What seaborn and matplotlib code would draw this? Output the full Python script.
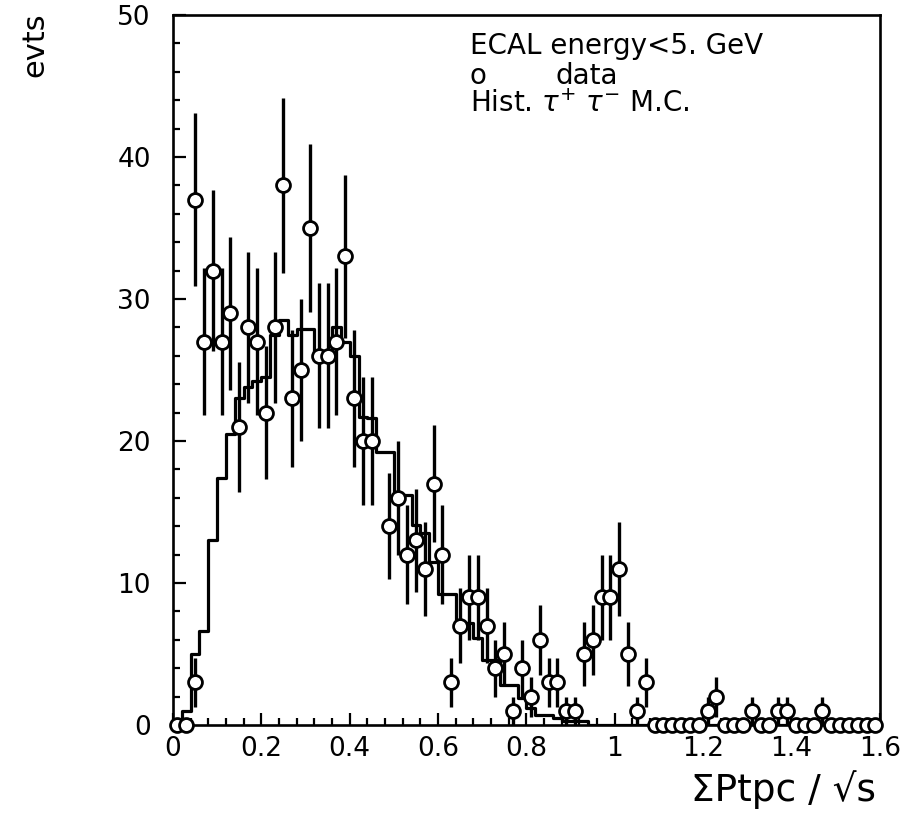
import numpy as np
import pandas as pd
import matplotlib
matplotlib.use("Agg")
import matplotlib.pyplot as plt
import seaborn as sns
from matplotlib.ticker import MultipleLocator, FixedLocator, FixedFormatter

# ---------------- data ----------------
bin_width = 0.02
x_min, x_max = 0.0, 1.6

# Monte Carlo tau+tau- histogram (80 bins of 0.02)
mc_hist = [0, 1, 5, 6.6, 13, 17.4, 20.5, 23, 23.8, 24.2,
           24.5, 27.5, 28.5, 27.5, 27.9, 27.9, 26.2, 26.2, 28, 27,
           26, 21.7, 21.6, 19.2, 19.2, 16.2, 16.2, 14.1, 13.5, 11.5,
           9.2, 9.2, 7.2, 7.2, 6.1, 4.6, 4.6, 2.8, 2.8, 1.9,
           1.2, 0.7, 0.7, 0.5, 0.3, 0.3, 0.3, 0, 0, 0,
           0, 0, 0, 0, 0, 0, 0, 0, 0, 0,
           0, 0, 0, 0, 0, 0, 0, 0, 0, 0,
           0, 0, 0, 0, 0, 0, 0, 0, 0, 0]

# data counts per bin (nan = no point drawn)
nan = float("nan")
data_counts = [0, 0, 37, 27, 32, 27, 29, 21, 28, 27,
               22, 28, 38, 23, 25, 35, 26, 26, 27, 33,
               23, 20, 20, nan, 14, 16, 12, 13, 11, 17,
               12, 3, 7, 9, 9, 7, 4, 5, 1, 4,
               2, 6, 3, 3, 1, 1, 5, 6, 9, 9,
               11, 5, 1, 3, 0, 0, 0, 0, 0, 0,
               1, 2, 0, 0, 0, 1, 0, 0, 1, 1,
               0, 0, 0, 1, 0, 0, 0, 0, 0, 0]

# additional data point drawn in the first rising bins
extra_x = [0.05]
extra_counts = [3]

x_ticks = [0, 0.2, 0.4, 0.6, 0.8, 1.0, 1.2, 1.4, 1.6]
x_tick_labels = ["0", "0.2", "0.4", "0.6", "0.8", "1", "1.2", "1.4", "1.6"]
y_ticks = [0, 10, 20, 30, 40, 50]
y_tick_labels = ["0", "10", "20", "30", "40", "50"]

legend_lines = ["ECAL energy<5. GeV", "data", r"Hist. $\tau^{+}\ \tau^{-}$ M.C."]

# ---------------- plot ----------------
sns.set_theme(style="ticks")
plt.rcParams['font.family'] = ['DejaVu Sans']
plt.rcParams['text.color'] = 'black'
plt.rcParams['axes.labelcolor'] = 'black'
plt.rcParams['xtick.color'] = 'black'
plt.rcParams['ytick.color'] = 'black'

fig = plt.figure(figsize=(9.08, 8.14), dpi=100)
ax = fig.add_axes([0.1905, 0.1093, 0.7785, 0.8723])

n_bins = len(mc_hist)
edges = np.round(np.linspace(x_min, x_min + n_bins * bin_width, n_bins + 1), 4)
centers = (edges[:-1] + edges[1:]) / 2

mc_df = pd.DataFrame({"x": centers, "w": mc_hist})
sns.histplot(data=mc_df, x="x", weights="w", bins=edges.tolist(), element="step",
             fill=False, color="black", linewidth=2.3, ax=ax, zorder=2)

xs = np.concatenate([centers, np.array(extra_x)])
ns = np.concatenate([np.array(data_counts, float), np.array(extra_counts, float)])
ok = ~np.isnan(ns)
xs, ns = xs[ok], ns[ok]
errs = np.sqrt(ns)
ax.errorbar(xs, ns, yerr=errs, fmt="none", ecolor="black", elinewidth=2.4,
            capsize=0, zorder=3)
sns.scatterplot(x=xs, y=ns, marker="o", s=100, facecolor="white",
                edgecolor="black", linewidth=2.0, ax=ax, zorder=5, legend=False,
                clip_on=False)

ax.set_xlim(x_min, x_max)
ax.set_ylim(0, 50)
ax.xaxis.set_major_locator(FixedLocator(x_ticks))
ax.xaxis.set_major_formatter(FixedFormatter(x_tick_labels))
ax.xaxis.set_minor_locator(MultipleLocator(0.04))
ax.yaxis.set_major_locator(FixedLocator(y_ticks))
ax.yaxis.set_major_formatter(FixedFormatter(y_tick_labels))
ax.yaxis.set_minor_locator(MultipleLocator(2))
ax.tick_params(which="both", direction="in", top=False, right=False,
               width=1.6, colors="black", labelsize=19)
ax.tick_params(axis="y", which="major", length=9, pad=16)
ax.tick_params(axis="x", which="major", length=9, pad=8)
ax.tick_params(which="minor", length=5)
for s in ax.spines.values():
    s.set_visible(True)
    s.set_linewidth(1.9)
    s.set_color("black")
ax.set_xlabel("")
ax.set_ylabel("")

# annotation block
ax.text(0.672, 47.8, legend_lines[0], fontsize=20, ha="left", va="center")
ax.text(0.672, 45.7, "o", fontsize=20, ha="left", va="center")
ax.text(0.865, 45.7, legend_lines[1], fontsize=20, ha="left", va="center")
ax.text(0.672, 43.7, legend_lines[2], fontsize=20, ha="left", va="center")

fig.text(0.038, 0.945, "evts", rotation=90, fontsize=22, ha="center", va="center")
fig.text(0.863, 0.030, "ΣPtpc / √s", fontsize=27, ha="center", va="center")

fig.savefig("out.png", dpi=100)
